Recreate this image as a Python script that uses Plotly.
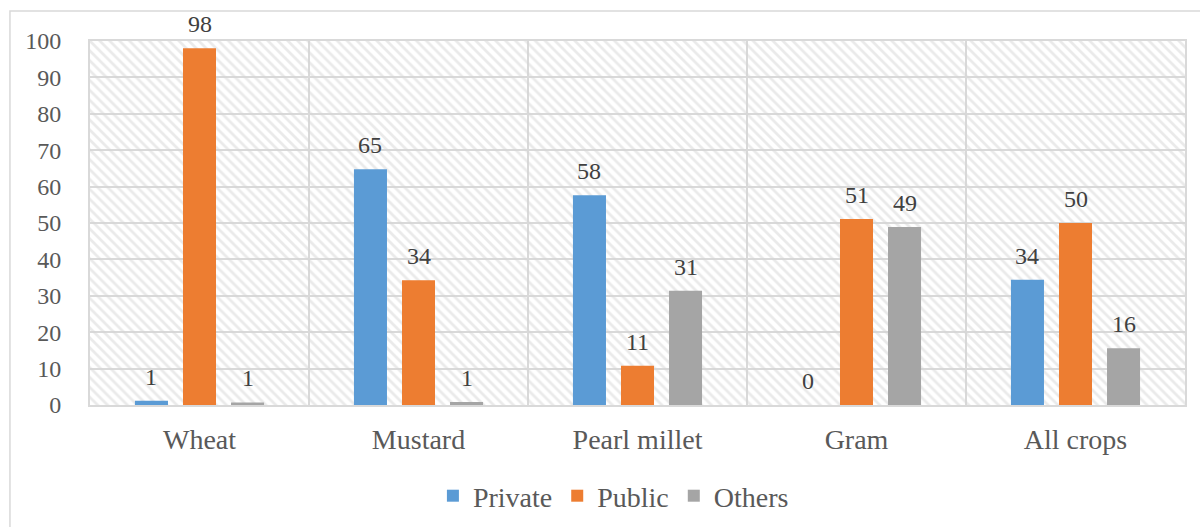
import plotly.graph_objects as go

categories = ["Wheat", "Mustard", "Pearl millet", "Gram", "All crops"]
series_names = ["Private", "Public", "Others"]
private = [1.2, 64.8, 57.6, 0.0, 34.4]
public = [98.0, 34.3, 10.8, 51.1, 50.0]
others = [0.7, 0.8, 31.4, 48.9, 15.6]
series_values = [private, public, others]
colors = ["#5b9bd5", "#ed7d31", "#a5a5a5"]
y_ticks = [0, 10, 20, 30, 40, 50, 60, 70, 80, 90, 100]

W, H = 1200, 527
ML, MR, MT, MB = 90, 15, 41, 122
BARGAP = 0.342
BARGROUPGAP = 0.3125
FONT = "Liberation Serif"
GRID = "#d9d9d9"

fig = go.Figure()

# hatched plot background
fig.add_trace(go.Bar(
    x=[0.5], y=[100], width=[1], xaxis="x", yaxis="y",
    marker=dict(color="rgba(0,0,0,0)", line=dict(width=0),
                pattern=dict(shape="\\", fgcolor="#d6d6d6", size=7, solidity=0.4)),
    showlegend=False, hoverinfo="skip",
))

for name, vals, col in zip(series_names, series_values, colors):
    fig.add_trace(go.Bar(
        x=categories, y=vals, name=name, xaxis="x2", yaxis="y",
        marker=dict(color=col, line=dict(width=0)),
    ))

plot_w = W - ML - MR
slot = (1 - BARGAP) * plot_w / len(categories) / len(series_names)
annotations = []
for i, vals in enumerate(series_values):
    for c, v in zip(categories, vals):
        annotations.append(dict(
            x=c, y=v, xref="x2", yref="y", text=f"{v:.0f}", showarrow=False,
            xanchor="center", yanchor="bottom", xshift=(i - 1) * slot, yshift=9,
            font=dict(family=FONT, size=24, color="#404040"),
        ))

fig.update_layout(
    width=W, height=H,
    margin=dict(l=ML, r=MR, t=MT, b=MB, autoexpand=False),
    paper_bgcolor="white", plot_bgcolor="white",
    barmode="group", bargap=BARGAP, bargroupgap=BARGROUPGAP,
    font=dict(family=FONT, color="#595959"),
    xaxis=dict(range=[0, 1], showticklabels=False, showgrid=False, zeroline=False,
               showline=True, mirror=True, linecolor=GRID, linewidth=2, fixedrange=True),
    xaxis2=dict(overlaying="x", side="bottom", type="category", tickson="boundaries",
                showgrid=True, gridcolor=GRID, gridwidth=2, ticks="", showline=False,
                tickfont=dict(family=FONT, size=28, color="#595959"), ticklabelstandoff=15),
    yaxis=dict(range=[0, 100], tickvals=y_ticks, showgrid=True, gridcolor=GRID, gridwidth=2,
               zeroline=False, showline=True, mirror=True, linecolor=GRID, linewidth=2,
               tickfont=dict(family=FONT, size=24, color="#595959"), ticklabelstandoff=22),
    legend=dict(orientation="h", x=0.478, xanchor="center", y=-0.25, yanchor="middle",
                font=dict(family=FONT, size=28, color="#595959"), traceorder="normal"),
    annotations=annotations,
    shapes=[dict(type="rect", xref="paper", yref="paper", x0=-0.0731, x1=1.2, y0=-0.6, y1=1.0824,
                 line=dict(color=GRID, width=1.5), layer="below")],
)

fig.write_html("out.html")
